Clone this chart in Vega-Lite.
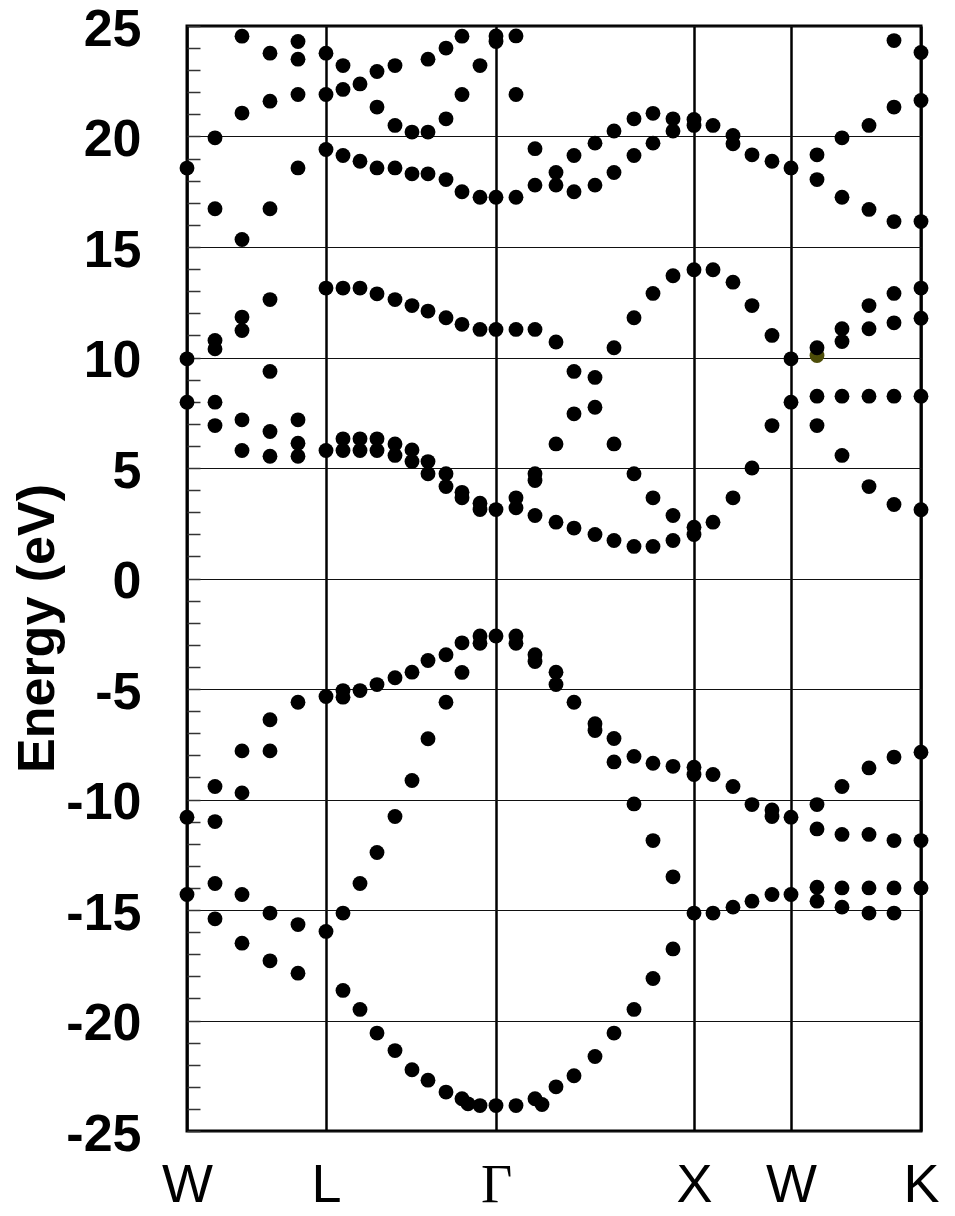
{
  "$schema": "https://vega.github.io/schema/vega-lite/v6.json",
  "width": 734,
  "height": 1105,
  "autosize": {"type": "none"},
  "padding": {"left": 187, "top": 26, "right": 34, "bottom": 85},
  "background": "white",
  "config": {
    "view": {"stroke": "black", "strokeWidth": 3},
    "font": "Liberation Sans"
  },
  "data": {
    "values": [
      {"k": 0, "E": 18.57}, {"k": 0, "E": 9.94}, {"k": 0, "E": 7.98}, {"k": 0, "E": -10.8}, {"k": 0, "E": -14.3},
      {"k": 28, "E": 19.94}, {"k": 28, "E": 16.73}, {"k": 28, "E": 10.77}, {"k": 28, "E": 10.39}, {"k": 28, "E": 7.98}, {"k": 28, "E": 6.92}, {"k": 28, "E": -9.41}, {"k": 28, "E": -11.0}, {"k": 28, "E": -13.8}, {"k": 28, "E": -15.4},
      {"k": 55, "E": 24.54}, {"k": 55, "E": 21.06}, {"k": 55, "E": 15.34}, {"k": 55, "E": 11.83}, {"k": 55, "E": 11.22}, {"k": 55, "E": 7.18}, {"k": 55, "E": 5.79}, {"k": 55, "E": -7.8}, {"k": 55, "E": -9.7}, {"k": 55, "E": -14.3}, {"k": 55, "E": -16.5},
      {"k": 83, "E": 23.77}, {"k": 83, "E": 21.6}, {"k": 83, "E": 16.73}, {"k": 83, "E": 12.62}, {"k": 83, "E": 9.37}, {"k": 83, "E": 6.65}, {"k": 83, "E": 5.53}, {"k": 83, "E": -6.39}, {"k": 83, "E": -7.8}, {"k": 83, "E": -15.14}, {"k": 83, "E": -17.3},
      {"k": 111, "E": 24.3}, {"k": 111, "E": 23.5}, {"k": 111, "E": 21.9}, {"k": 111, "E": 18.58}, {"k": 111, "E": 7.18}, {"k": 111, "E": 6.12}, {"k": 111, "E": 5.53}, {"k": 111, "E": -5.6}, {"k": 111, "E": -15.66}, {"k": 111, "E": -17.86},
      {"k": 139, "E": 23.77}, {"k": 139, "E": 21.9}, {"k": 139, "E": 19.41}, {"k": 139, "E": 13.14}, {"k": 139, "E": 5.79}, {"k": 139, "E": -5.34}, {"k": 139, "E": -15.97},
      {"k": 156, "E": 23.21}, {"k": 156, "E": 22.13}, {"k": 156, "E": 19.14}, {"k": 156, "E": 13.14}, {"k": 156, "E": 6.32}, {"k": 156, "E": 5.79}, {"k": 156, "E": -5.07}, {"k": 156, "E": -5.37}, {"k": 156, "E": -15.14}, {"k": 156, "E": -18.64},
      {"k": 173, "E": 22.38}, {"k": 173, "E": 18.88}, {"k": 173, "E": 13.14}, {"k": 173, "E": 6.32}, {"k": 173, "E": 5.79}, {"k": 173, "E": -5.07}, {"k": 173, "E": -13.8}, {"k": 173, "E": -19.5},
      {"k": 190, "E": 22.94}, {"k": 190, "E": 21.33}, {"k": 190, "E": 18.58}, {"k": 190, "E": 12.88}, {"k": 190, "E": 6.32}, {"k": 190, "E": 5.79}, {"k": 190, "E": -4.8}, {"k": 190, "E": -12.4}, {"k": 190, "E": -20.57},
      {"k": 208, "E": 23.21}, {"k": 208, "E": 20.5}, {"k": 208, "E": 18.58}, {"k": 208, "E": 12.62}, {"k": 208, "E": 6.09}, {"k": 208, "E": 5.57}, {"k": 208, "E": -4.49}, {"k": 208, "E": -10.77}, {"k": 208, "E": -21.36},
      {"k": 225, "E": 20.2}, {"k": 225, "E": 18.31}, {"k": 225, "E": 12.35}, {"k": 225, "E": 5.82}, {"k": 225, "E": 5.29}, {"k": 225, "E": -4.24}, {"k": 225, "E": -9.14}, {"k": 225, "E": -22.23},
      {"k": 241, "E": 23.5}, {"k": 241, "E": 20.2}, {"k": 241, "E": 18.31}, {"k": 241, "E": 12.1}, {"k": 241, "E": 5.29}, {"k": 241, "E": 4.74}, {"k": 241, "E": -3.71}, {"k": 241, "E": -7.25}, {"k": 241, "E": -22.7},
      {"k": 259, "E": 24.0}, {"k": 259, "E": 20.8}, {"k": 259, "E": 18.05}, {"k": 259, "E": 11.8}, {"k": 259, "E": 4.74}, {"k": 259, "E": 4.16}, {"k": 259, "E": -3.45}, {"k": 259, "E": -5.6}, {"k": 259, "E": -23.24},
      {"k": 275, "E": 24.54}, {"k": 275, "E": 21.9}, {"k": 275, "E": 17.5}, {"k": 275, "E": 11.5}, {"k": 275, "E": 3.9}, {"k": 275, "E": 3.65}, {"k": 275, "E": -2.91}, {"k": 275, "E": -4.25}, {"k": 275, "E": -23.54},
      {"k": 281, "E": -23.77},
      {"k": 293, "E": 23.21}, {"k": 293, "E": 17.25}, {"k": 293, "E": 11.27}, {"k": 293, "E": 3.41}, {"k": 293, "E": 3.12}, {"k": 293, "E": -2.6}, {"k": 293, "E": -2.93}, {"k": 293, "E": -23.85},
      {"k": 309, "E": 24.55}, {"k": 309, "E": 24.3}, {"k": 309, "E": 17.25}, {"k": 309, "E": 11.27}, {"k": 309, "E": 3.12}, {"k": 309, "E": -2.6}, {"k": 309, "E": -23.85},
      {"k": 329, "E": 24.55}, {"k": 329, "E": 21.9}, {"k": 329, "E": 17.25}, {"k": 329, "E": 11.27}, {"k": 329, "E": 3.65}, {"k": 329, "E": 3.2}, {"k": 329, "E": -2.6}, {"k": 329, "E": -2.93}, {"k": 329, "E": -23.85},
      {"k": 348, "E": 19.45}, {"k": 348, "E": 17.8}, {"k": 348, "E": 11.27}, {"k": 348, "E": 4.74}, {"k": 348, "E": 4.43}, {"k": 348, "E": 2.85}, {"k": 348, "E": -3.45}, {"k": 348, "E": -3.76}, {"k": 348, "E": -23.54},
      {"k": 355, "E": -23.8},
      {"k": 369, "E": 18.37}, {"k": 369, "E": 17.8}, {"k": 369, "E": 10.7}, {"k": 369, "E": 6.09}, {"k": 369, "E": 2.55}, {"k": 369, "E": -4.24}, {"k": 369, "E": -4.8}, {"k": 369, "E": -23.0},
      {"k": 387, "E": 19.14}, {"k": 387, "E": 17.5}, {"k": 387, "E": 9.37}, {"k": 387, "E": 7.45}, {"k": 387, "E": 2.28}, {"k": 387, "E": -5.6}, {"k": 387, "E": -22.5},
      {"k": 408, "E": 19.7}, {"k": 408, "E": 17.8}, {"k": 408, "E": 9.1}, {"k": 408, "E": 7.75}, {"k": 408, "E": 1.99}, {"k": 408, "E": -6.57}, {"k": 408, "E": -6.88}, {"k": 408, "E": -21.63},
      {"k": 427, "E": 20.25}, {"k": 427, "E": 18.37}, {"k": 427, "E": 10.44}, {"k": 427, "E": 6.09}, {"k": 427, "E": 1.72}, {"k": 427, "E": -7.24}, {"k": 427, "E": -8.3}, {"k": 427, "E": -20.57},
      {"k": 447, "E": 20.8}, {"k": 447, "E": 19.14}, {"k": 447, "E": 11.8}, {"k": 447, "E": 4.74}, {"k": 447, "E": 1.45}, {"k": 447, "E": -8.05}, {"k": 447, "E": -10.2}, {"k": 447, "E": -19.5},
      {"k": 466, "E": 21.05}, {"k": 466, "E": 19.7}, {"k": 466, "E": 12.9}, {"k": 466, "E": 3.65}, {"k": 466, "E": 1.45}, {"k": 466, "E": -8.36}, {"k": 466, "E": -11.86}, {"k": 466, "E": -18.1},
      {"k": 486, "E": 20.8}, {"k": 486, "E": 20.25}, {"k": 486, "E": 13.7}, {"k": 486, "E": 2.85}, {"k": 486, "E": 1.72}, {"k": 486, "E": -8.5}, {"k": 486, "E": -13.5}, {"k": 486, "E": -16.76},
      {"k": 507, "E": 20.77}, {"k": 507, "E": 20.5}, {"k": 507, "E": 13.97}, {"k": 507, "E": 2.32}, {"k": 507, "E": 1.99}, {"k": 507, "E": -8.54}, {"k": 507, "E": -8.87}, {"k": 507, "E": -15.14},
      {"k": 526, "E": 20.5}, {"k": 526, "E": 13.97}, {"k": 526, "E": 2.55}, {"k": 526, "E": -8.87}, {"k": 526, "E": -15.14},
      {"k": 546, "E": 20.05}, {"k": 546, "E": 19.67}, {"k": 546, "E": 13.41}, {"k": 546, "E": 3.65}, {"k": 546, "E": -9.41}, {"k": 546, "E": -14.87},
      {"k": 565, "E": 19.17}, {"k": 565, "E": 12.35}, {"k": 565, "E": 5.0}, {"k": 565, "E": -10.23}, {"k": 565, "E": -14.6},
      {"k": 585, "E": 18.88}, {"k": 585, "E": 11.0}, {"k": 585, "E": 6.92}, {"k": 585, "E": -10.47}, {"k": 585, "E": -10.77}, {"k": 585, "E": -14.3},
      {"k": 604, "E": 18.58}, {"k": 604, "E": 9.94}, {"k": 604, "E": 7.98}, {"k": 604, "E": -10.8}, {"k": 604, "E": -14.3},
      {"k": 630, "E": 10.09, "olive": true},
      {"k": 630, "E": 19.17}, {"k": 630, "E": 18.05}, {"k": 630, "E": 10.44}, {"k": 630, "E": 8.25}, {"k": 630, "E": 6.92}, {"k": 630, "E": -10.23}, {"k": 630, "E": -11.33}, {"k": 630, "E": -13.97}, {"k": 630, "E": -14.6},
      {"k": 655, "E": 19.94}, {"k": 655, "E": 17.25}, {"k": 655, "E": 11.3}, {"k": 655, "E": 10.72}, {"k": 655, "E": 8.25}, {"k": 655, "E": 5.57}, {"k": 655, "E": -9.41}, {"k": 655, "E": -11.58}, {"k": 655, "E": -14.0}, {"k": 655, "E": -14.87},
      {"k": 682, "E": 20.5}, {"k": 682, "E": 16.7}, {"k": 682, "E": 12.35}, {"k": 682, "E": 11.3}, {"k": 682, "E": 8.25}, {"k": 682, "E": 4.16}, {"k": 682, "E": -8.57}, {"k": 682, "E": -11.58}, {"k": 682, "E": -14.0}, {"k": 682, "E": -15.14},
      {"k": 707, "E": 24.34}, {"k": 707, "E": 21.33}, {"k": 707, "E": 16.15}, {"k": 707, "E": 12.9}, {"k": 707, "E": 11.57}, {"k": 707, "E": 8.25}, {"k": 707, "E": 3.35}, {"k": 707, "E": -8.08}, {"k": 707, "E": -11.86}, {"k": 707, "E": -14.0}, {"k": 707, "E": -15.14},
      {"k": 734, "E": 23.8}, {"k": 734, "E": 21.63}, {"k": 734, "E": 16.15}, {"k": 734, "E": 13.14}, {"k": 734, "E": 11.78}, {"k": 734, "E": 8.25}, {"k": 734, "E": 3.11}, {"k": 734, "E": -7.86}, {"k": 734, "E": -11.86}, {"k": 734, "E": -14.0}
    ]
  },
  "mark": {"type": "circle", "size": 220, "opacity": 1, "clip": false},
  "encoding": {
    "x": {
      "field": "k",
      "type": "quantitative",
      "scale": {"domain": [0, 734], "nice": false, "zero": false},
      "axis": {
        "title": null,
        "values": [0, 139, 309, 507, 604, 734],
        "labelExpr": "datum.value == 0 ? 'W' : datum.value == 139 ? 'L' : datum.value == 309 ? 'Γ' : datum.value == 507 ? 'X' : datum.value == 604 ? 'W' : 'K'",
        "labelFont": {"condition": {"test": "datum.value == 309", "value": "Liberation Serif"}, "value": "Liberation Sans"},
        "labelFontSize": 54,
        "labelFontWeight": "normal",
        "labelColor": "black",
        "labelPadding": 27,
        "labelOverlap": false,
        "labelFlush": false,
        "labelBound": false,
        "ticks": false,
        "domain": false,
        "grid": true,
        "gridColor": "black",
        "gridWidth": 2.5,
        "gridOpacity": 1
      }
    },
    "y": {
      "field": "E",
      "type": "quantitative",
      "scale": {"domain": [-25, 25], "nice": false, "zero": false},
      "axis": {
        "title": "Energy (eV)",
        "titleFont": "Liberation Sans",
        "titleFontSize": 52,
        "titleFontWeight": "bold",
        "titleColor": "black",
        "titleAngle": -90,
        "titleAlign": "center",
        "titleBaseline": "alphabetic",
        "titleX": -134,
        "titleY": 602,
        "values": [-25, -24, -23, -22, -21, -20, -19, -18, -17, -16, -15, -14, -13, -12, -11, -10, -9, -8, -7, -6, -5, -4, -3, -2, -1, 0, 1, 2, 3, 4, 5, 6, 7, 8, 9, 10, 11, 12, 13, 14, 15, 16, 17, 18, 19, 20, 21, 22, 23, 24, 25],
        "labelExpr": "datum.value % 5 == 0 ? '' + datum.value : ''",
        "labelFont": "Liberation Sans",
        "labelFontSize": 52,
        "labelFontWeight": "bold",
        "labelColor": "black",
        "labelPadding": 59,
        "labelOffset": 3,
        "labelOverlap": false,
        "labelFlush": false,
        "labelBound": false,
        "ticks": true,
        "tickSize": -13,
        "tickWidth": 1.5,
        "tickColor": "#333333",
        "domain": false,
        "grid": true,
        "gridColor": "#111111",
        "gridWidth": 1.2,
        "gridOpacity": {"condition": {"test": "datum.value % 5 == 0", "value": 1}, "value": 0}
      }
    },
    "color": {"condition": {"test": "datum.olive", "value": "#4d4d08"}, "value": "black"}
  }
}
